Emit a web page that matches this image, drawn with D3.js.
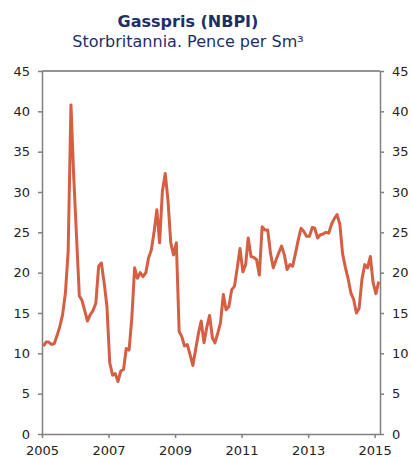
<!DOCTYPE html>
<html>
<head>
<meta charset="utf-8">
<script src="https://cdn.jsdelivr.net/npm/d3@7"></script>
<style>
  body { margin: 0; background: #fff; }
  .axis text { font-family: "DejaVu Sans", Verdana, sans-serif; font-size: 13px; fill: #222; }
  .axis path, .axis line { stroke: #808080; stroke-width: 1.5px; }
</style>
</head>
<body>
<div class="plot"></div>
<script>
// Monthly NBP gas price, pence per Sm3, Jan 2005 - Feb 2015
const startYear = 2005;
const prices = [
  10.9, 11.4, 11.4, 11.1, 11.2, 12.2, 13.3, 14.8, 17.5, 22.6, 40.8, 32.0,
  24.5, 17.1, 16.6, 15.3, 14.0, 14.8, 15.3, 16.2, 20.8, 21.2, 18.7, 15.8,
  8.8, 7.3, 7.5, 6.5, 7.8, 8.0, 10.6, 10.4, 14.5, 20.6, 19.3, 20.0,
  19.5, 20.0, 21.8, 22.8, 25.0, 27.8, 23.7, 30.1, 32.3, 29.0, 23.7, 22.2,
  23.7, 12.7, 12.1, 10.9, 11.1, 9.8, 8.5, 10.5, 12.5, 14.0, 11.3, 13.2,
  14.7, 11.9, 11.3, 12.5, 13.8, 17.3, 15.4, 15.8, 17.9, 18.3, 20.6, 23.0,
  20.1, 21.0, 24.3, 22.0, 21.9, 21.6, 19.7, 25.7, 25.3, 25.3, 22.4, 20.6,
  21.6, 22.5, 23.3, 22.2, 20.4, 21.0, 20.8, 22.4, 24.1, 25.5, 25.1, 24.5,
  24.5, 25.6, 25.5, 24.3, 24.7, 24.8, 25.0, 24.9, 26.0, 26.7, 27.2, 26.0,
  22.3, 20.6, 19.3, 17.5, 16.7, 15.0, 15.6, 19.2, 21.0, 20.6, 22.0, 18.8,
  17.4, 18.9
];
const yTicks = [0, 5, 10, 15, 20, 25, 30, 35, 40, 45];
const xTickYears = [2005, 2007, 2009, 2011, 2013, 2015];
const title = "Gasspris (NBPI)";
const subtitle = "Storbritannia. Pence per Sm³";

const margin = {top: 71, right: 31, bottom: 23, left: 42};
const W = 411, H = 457;
const w = W - margin.left - margin.right;
const h = H - margin.top - margin.bottom;

const data = prices.map((v, i) => ({date: new Date(startYear, i, 15), value: v}));

const svg = d3.select(".plot")
    .append("svg")
        .attr("width", W)
        .attr("height", H);

// Titles
svg.append("text")
    .attr("x", 188)
    .attr("y", 27)
    .attr("text-anchor", "middle")
    .style("font-family", "'DejaVu Sans', Verdana, sans-serif")
    .style("font-size", "16px")
    .style("font-weight", "bold")
    .style("fill", "#1c2f6b")
    .text(title);
svg.append("text")
    .attr("x", 188)
    .attr("y", 47)
    .attr("text-anchor", "middle")
    .style("font-family", "'DejaVu Sans', Verdana, sans-serif")
    .style("font-size", "16px")
    .style("fill", "#1c2f6b")
    .text(subtitle);

const g = svg.append("g")
    .attr("transform", "translate(" + margin.left + "," + margin.top + ")");

const x = d3.scaleTime()
    .domain([new Date(2005, 0, 1), new Date(2015, 2, 1)])
    .range([0, w]);
const y = d3.scaleLinear()
    .domain([0, 45])
    .range([h, 0]);

// Top frame line
g.append("line")
    .attr("x1", 0).attr("x2", w)
    .attr("y1", 0).attr("y2", 0)
    .attr("stroke", "#707070")
    .attr("stroke-width", 1.5);

g.append("g")
    .attr("class", "axis")
    .call(d3.axisLeft(y).tickValues(yTicks).tickSize(4).tickPadding(8).tickSizeOuter(0));

g.append("g")
    .attr("class", "axis")
    .attr("transform", "translate(" + w + ",0)")
    .call(d3.axisRight(y).tickValues(yTicks).tickSize(4).tickPadding(8).tickSizeOuter(0));

g.append("g")
    .attr("class", "axis")
    .attr("transform", "translate(0," + h + ")")
    .call(d3.axisBottom(x)
        .tickValues(xTickYears.map(yr => new Date(yr, 0, 1)))
        .tickFormat(d3.timeFormat("%Y"))
        .tickSize(4).tickPadding(8).tickSizeOuter(0));

// Price line
const line = d3.line()
    .x(d => x(d.date))
    .y(d => y(d.value));

g.append("path")
    .datum(data)
    .attr("fill", "none")
    .attr("stroke", "#d45f42")
    .attr("stroke-width", 3)
    .attr("stroke-linejoin", "round")
    .attr("d", line);
</script>
</body>
</html>
